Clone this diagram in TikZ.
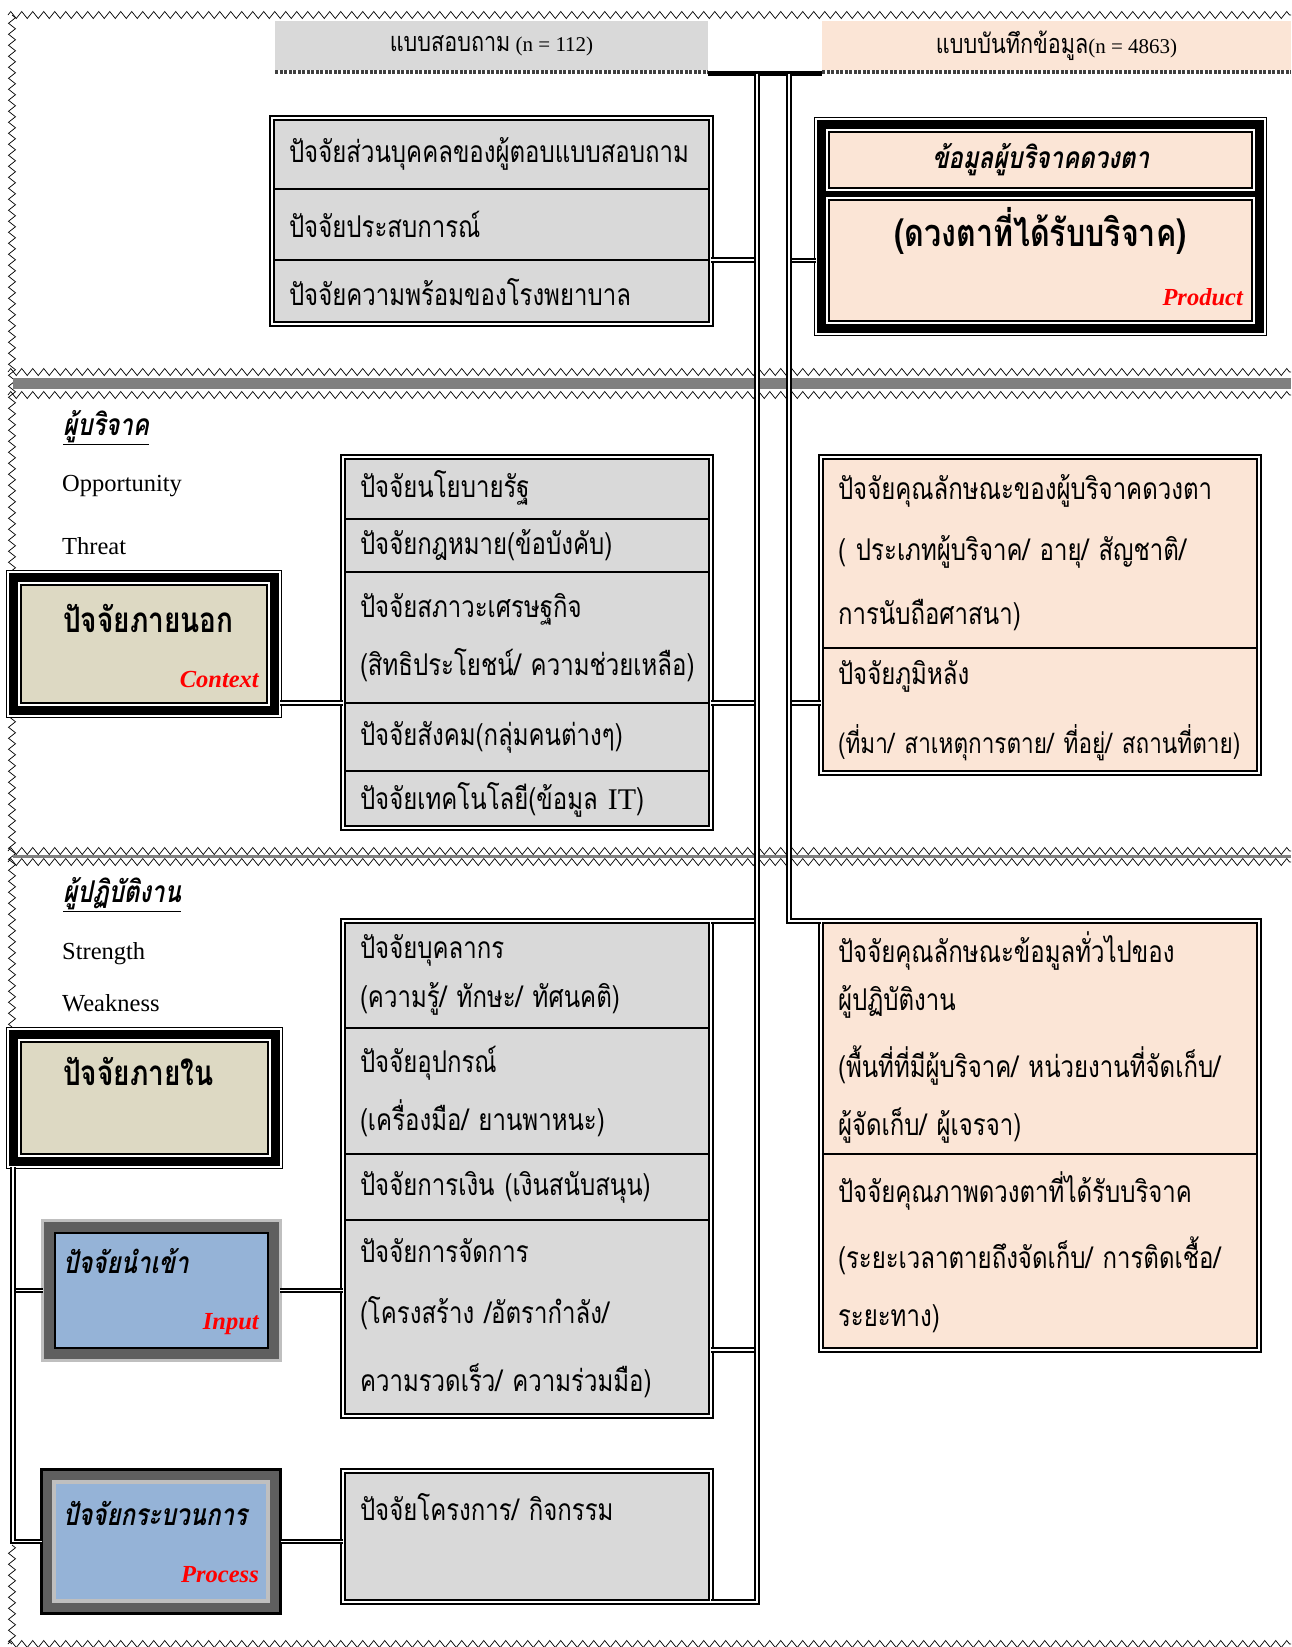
\documentclass[tikz,border=0pt]{standalone}
\usepackage{fontspec}
\setmainfont{Liberation Serif}
\newfontfamily\thai[Script=Thai,FakeStretch=0.8,WordSpace=0.45]{Loma}
\newfontfamily\thaiit[Script=Thai,FakeStretch=0.8,WordSpace=0.45,FakeSlant=0.2]{Loma}
\usetikzlibrary{positioning,fit,backgrounds,decorations.pathmorphing}
\definecolor{cellgrey}{HTML}{D9D9D9}
\definecolor{peach}{HTML}{FBE5D6}
\definecolor{tan}{HTML}{DDD9C3}
\definecolor{steel}{HTML}{95B3D7}
\definecolor{darkgrey}{HTML}{5F5F5F}
\definecolor{lightgrey}{HTML}{BFBFBF}
\definecolor{bandgrey}{HTML}{808080}

\begin{document}
\begin{tikzpicture}[
    x=1pt, y=-1pt,
    zig/.style={decorate, decoration={zigzag, segment length=11, amplitude=3.5}, line width=0.7},
    head/.style={rectangle, inner sep=0, outer sep=0, minimum height=49, anchor=north west, font=\fontsize{21}{24}\selectfont},
    hatch/.style={line width=4, dash pattern=on 3pt off 1.5pt, black!75},
    row/.style={rectangle, draw, line width=1.4, outer sep=0, inner xsep=17, inner ysep=0, align=left, font=\thai\fontsize{30}{58}\selectfont},
    qrow/.style={row, fill=cellgrey, text width=405},
    mrow/.style={row, fill=cellgrey, text width=334},
    rrow/.style={row, fill=peach, text width=404},
    tbl/.style={draw, line width=2, double, double distance=1.5, inner sep=0, outer sep=0},
    cell/.style={rectangle, draw, line width=1.5, outer sep=0, inner sep=0, preaction={draw=white, line width=6}},
    icell/.style={rectangle, fill=steel, draw, line width=2.5, outer sep=0, inner sep=0},
    pcell/.style={rectangle, fill=steel, draw=lightgrey, line width=4, outer sep=0, inner sep=0},
    bigframe/.style={fill=black, draw, double=white, line width=1.2, double distance=1.5, inner sep=13, outer sep=0},
    ttl/.style={anchor=west, inner sep=0, font=\thai\bfseries\fontsize{35}{40}\selectfont},
    ittl/.style={anchor=west, inner sep=0, font=\thaiit\bfseries\fontsize{30}{36}\selectfont},
    tag/.style={anchor=east, inner sep=0, text=red, font=\bfseries\itshape\fontsize{24.5}{28}\selectfont},
    lbl/.style={anchor=west, inner sep=0, font=\fontsize{24.5}{28}\selectfont},
    link/.style={draw, line width=2, double, double distance=1.4},
    chan/.style={draw, line width=2.6, double, double distance=1.5},
    bar/.style={draw, line width=5},
  ]
  \useasboundingbox (0,0) rectangle (1291,1647);

  \node[head, fill=cellgrey, minimum width=433] (qhead) at (275,21) {{\thai\fontsize{27}{28}\selectfont แบบสอบถาม} (n = 112)};
  \node[head, fill=peach, minimum width=469] (rhead) at (822,21) {{\thai\fontsize{27}{28}\selectfont แบบบันทึกข้อมูล}(n = 4863)};

  \node[qrow, minimum height=71, anchor=north west] (q1) at (272,118) {ปัจจัยส่วนบุคคลของผู้ตอบแบบสอบถาม};
  \node[qrow, minimum height=71, below=0pt of q1] (q2) {ปัจจัยประสบการณ์};
  \node[qrow, minimum height=64, below=0pt of q2] (q3) {ปัจจัยความพร้อมของโรงพยาบาล};
  \node[tbl, fit=(q1)(q3)] (qbox) {};

  \node[cell, fill=peach, minimum width=423, minimum height=56, font=\thaiit\bfseries\fontsize{30}{36}\selectfont] (prod1) at (1040.5,160) {ข้อมูลผู้บริจาคดวงตา};
  \node[cell, fill=peach, minimum width=423, minimum height=121, below=12pt of prod1] (prod2) {};
  \node[inner sep=0, font=\thai\bfseries\fontsize{38}{44}\selectfont] (prodt) at ([yshift=-31pt]prod2.north) {(ดวงตาที่ได้รับบริจาค)};
  \node[tag] (prodl) at ([xshift=-9pt,yshift=24pt]prod2.south east) {Product};

  \node[ittl] (donor) at (63,428) {\underline{ผู้บริจาค}};
  \node[lbl] (opp) at (62,486) {Opportunity};
  \node[lbl] (thr) at (62,546) {Threat};

  \node[cell, fill=tan, minimum width=246, minimum height=118, anchor=north west] (ctx) at (21,585) {};
  \node[ttl] (ctxt) at ([xshift=42pt,yshift=-33pt]ctx.north west) {ปัจจัยภายนอก};
  \node[tag] (ctxl) at ([xshift=-8pt,yshift=24pt]ctx.south east) {Context};

  \node[mrow, minimum height=62, anchor=north west] (e1) at (343,457) {ปัจจัยนโยบายรัฐ};
  \node[mrow, minimum height=53, below=0pt of e1] (e2) {ปัจจัยกฎหมาย(ข้อบังคับ)};
  \node[mrow, minimum height=131, below=0pt of e2] (e3) {ปัจจัยสภาวะเศรษฐกิจ\\(สิทธิประโยชน์/~ความช่วยเหลือ)};
  \node[mrow, minimum height=68, below=0pt of e3] (e4) {ปัจจัยสังคม(กลุ่มคนต่างๆ)};
  \node[mrow, minimum height=57, below=0pt of e4] (e5) {ปัจจัยเทคโนโลยี(ข้อมูล~{\rmfamily IT})};
  \node[tbl, fit=(e1)(e5)] (extbox) {};

  \node[rrow, minimum height=191, anchor=north west] (d1) at (821,457) {ปัจจัยคุณลักษณะของผู้บริจาคดวงตา\\[3pt](~ประเภทผู้บริจาค/~อายุ/~สัญชาติ/\\[6pt]การนับถือศาสนา)};
  \node[rrow, minimum height=125, below=0pt of d1] (d2) {ปัจจัยภูมิหลัง\\[11pt]{\fontsize{28.2}{58}\selectfont(ที่มา/~สาเหตุการตาย/~ที่อยู่/~สถานที่ตาย)}};
  \node[tbl, fit=(d1)(d2)] (donbox) {};

  \node[ittl] (staff) at (63,895) {\underline{ผู้ปฏิบัติงาน}};
  \node[lbl] (str) at (62,954) {Strength};
  \node[lbl] (weak) at (62,1003) {Weakness};

  \node[cell, fill=tan, minimum width=247, minimum height=112, anchor=north west] (int) at (21,1042) {};
  \node[ttl] (intt) at ([xshift=42pt,yshift=-29pt]int.north west) {ปัจจัยภายใน};

  \node[icell, minimum width=213, minimum height=115, anchor=north west] (inp) at (55,1233) {};
  \node[ittl] (inpt) at ([xshift=8pt,yshift=-28pt]inp.north west) {ปัจจัยนำเข้า};
  \node[tag] (inpl) at ([xshift=-9pt,yshift=24pt]inp.south east) {Input};

  \node[pcell, minimum width=214, minimum height=119, anchor=north west] (proc) at (54,1482) {};
  \node[ittl] (proct) at ([xshift=9pt,yshift=-31pt]proc.north west) {ปัจจัยกระบวนการ};
  \node[tag] (procl) at ([xshift=-9pt,yshift=26pt]proc.south east) {Process};

  \node[mrow, minimum height=107, anchor=north west] (i1) at (343,921) {ปัจจัยบุคลากร\\[-9pt](ความรู้/~ทักษะ/~ทัศนคติ)};
  \node[mrow, minimum height=126, below=0pt of i1] (i2) {ปัจจัยอุปกรณ์\\(เครื่องมือ/~ยานพาหนะ)};
  \node[mrow, minimum height=66, below=0pt of i2] (i3) {ปัจจัยการเงิน~(เงินสนับสนุน)};
  \node[mrow, minimum height=196, below=0pt of i3] (i4) {ปัจจัยการจัดการ\\[3pt](โครงสร้าง~/อัตรากำลัง/\\[10pt]ความรวดเร็ว/~ความร่วมมือ)};
  \node[tbl, fit=(i1)(i4)] (inbox) {};

  \node[mrow, minimum height=131, text height=49, text depth=82, anchor=north west] (pj) at (343,1471) {ปัจจัยโครงการ/~กิจกรรม};
  \node[tbl, fit=(pj)] (projbox) {};

  \node[rrow, minimum height=233, anchor=north west] (s1) at (821,921) {ปัจจัยคุณลักษณะข้อมูลทั่วไปของ\\[-10pt]ผู้ปฏิบัติงาน\\[9pt](พื้นที่ที่มีผู้บริจาค/~หน่วยงานที่จัดเก็บ/\\ผู้จัดเก็บ/~ผู้เจรจา)};
  \node[rrow, minimum height=196, below=0pt of s1] (s2) {ปัจจัยคุณภาพดวงตาที่ได้รับบริจาค\\[8pt](ระยะเวลาตายถึงจัดเก็บ/~การติดเชื้อ/\\ระยะทาง)};
  \node[tbl, fit=(s1)(s2)] (staffbox) {};

  \begin{scope}[on background layer]
    \draw[zig] (8,15) -- (1291,15);
    \draw[zig] (12,15) -- (12,1028);
    \draw[zig] (12,1545) -- (12,1644);
    \draw[zig] (8,1644) -- (1291,1644);
    \draw[zig] (8,372) -- (1291,372);
    \fill[bandgrey] (13,378) rectangle (1291,389);
    \draw[zig] (8,395) -- (1291,395);
    \draw[zig] (8,851) -- (1291,851);
    \draw[bandgrey, line width=3] (13,856) -- (1291,856);
    \draw[zig] (8,862) -- (1291,862);
    \node[bigframe, fit=(prod1)(prod2)] (prodbox) {};
    \node[bigframe, fit=(ctx)] (ctxbox) {};
    \node[bigframe, fit=(int)] (intbox) {};
    \node[fit=(inp), fill=darkgrey, draw=lightgrey, line width=3, inner sep=12.25, outer sep=0] (inpbox) {};
    \node[fit=(proc), fill=darkgrey, draw=black, line width=3, inner sep=12.5, outer sep=0] (procbox) {};
  \end{scope}

  \draw[hatch] ([yshift=-2pt]qhead.south west) -- ([yshift=-2pt]qhead.south east);
  \draw[hatch] ([yshift=-2pt]rhead.south west) -- ([yshift=-2pt]rhead.south east);
  \draw[bar] ([yshift=-3.5pt]qhead.south east) -- ([yshift=-3.5pt]rhead.south west);
  \coordinate (chanL) at (757,73.5);
  \coordinate (chanR) at (789,73.5);
  \coordinate (trunk) at ([xshift=5pt]intbox.south west);

  \draw[link] (q3.north east) -- (q3.north east -| chanL);
  \draw[link] (prod2.west -| chanR) -- (prod2.west -| prodbox.west);
  \draw[link] (e4.north west -| ctxbox.east) -- (e4.north west);
  \draw[link] (e4.north east) -- (e4.north east -| chanL);
  \draw[link] (e4.north east -| chanR) -- (e4.north east -| donbox.west);
  \draw[link] (i1.north east) -- (i1.north east -| chanL);
  \draw[link] ([yshift=-32pt]i4.east) -- ([yshift=-32pt]i4.east -| chanL);
  \draw[link] (inp.east -| inpbox.east) -- (inp.east -| i4.west);
  \draw[link] (proc.east -| procbox.east) -- (proc.east -| pj.west);
  \draw[link] (trunk |- inpbox.west) -- (inpbox.west);
  \draw[link] (trunk) |- (procbox.west);
  \draw[chan] (chanL) |- (pj.south east);
  \draw[chan] (chanR) |- (s1.north west);
\end{tikzpicture}
\end{document}
